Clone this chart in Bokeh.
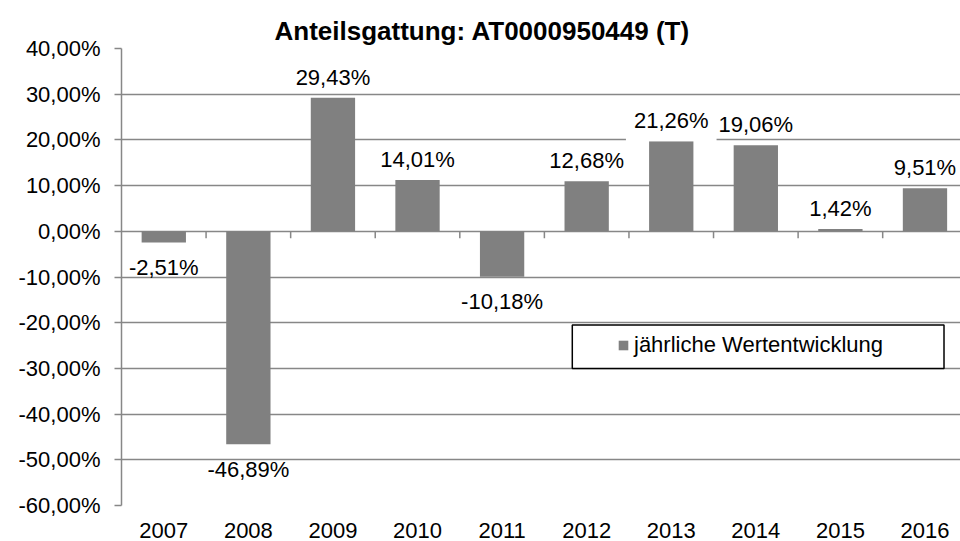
from bokeh.plotting import figure
from bokeh.models import (Range1d, ColumnDataSource, CustomJSTickFormatter, FixedTicker,
                          Legend, LegendItem, BoxAnnotation)
from bokeh.embed import file_html
from bokeh.resources import INLINE
from bokeh.core.properties import value

# ---------------- data ----------------
title_text = "Anteilsgattung: AT0000950449 (T)"
series_name = "jährliche Wertentwicklung"
years = ["2007", "2008", "2009", "2010", "2011", "2012", "2013", "2014", "2015", "2016"]
# bar heights as drawn in the reference (in %)
bar_values = [-2.45, -46.6, 29.25, 11.2, -9.95, 10.95, 19.7, 18.85, 0.5, 9.4]
# data label texts as printed in the reference
label_texts = ["-2,51%", "-46,89%", "29,43%", "14,01%", "-10,18%",
               "12,68%", "21,26%", "19,06%", "1,42%", "9,51%"]
y_ticks = [-60, -50, -40, -30, -20, -10, 0, 10, 20, 30, 40]

# ---------------- style / layout ----------------
FONT = "Liberation Sans"
FS = "22px"
GRID = "#878787"
BAR = "#808080"
W, H = 960, 541
BORDER_L, BORDER_T, BORDER_B = 121, 48, 36
y_lo, y_hi = y_ticks[0], y_ticks[-1]
frame_h = H - BORDER_T - BORDER_B
px_per_unit = frame_h / (y_hi - y_lo)
n = len(years)
x_end = n - 0.08          # right-most category is cut by the chart edge
label_bg_alpha = [0, 0, 0, 0, 0, 0, 1, 0, 0, 0]

p = figure(width=W, height=H, output_backend="svg", toolbar_location=None,
           x_range=Range1d(0, x_end), y_range=Range1d(y_lo, y_hi),
           min_border_left=BORDER_L, min_border_top=BORDER_T,
           min_border_bottom=BORDER_B, min_border_right=0,
           background_fill_color="white", border_fill_color="white")
p.outline_line_color = None

p.title.text = title_text
p.title.text_font = FONT
p.title.text_font_size = "26px"
p.title.text_font_style = "bold"
p.title.text_color = "black"
p.title.align = "left"
p.title.offset = 153
p.title.standoff = 5

centers = [i + 0.5 for i in range(n)]
src = ColumnDataSource(dict(x=centers, top=bar_values, year=years))
bars = p.vbar(x="x", top="top", bottom=0, width=0.524, source=src,
              fill_color=BAR, line_color=None)

# category boundary ticks on the zero line
bounds = list(range(1, n))
tick_len = 7 / px_per_unit
p.segment(x0=bounds, y0=[0] * len(bounds), x1=bounds, y1=[-tick_len] * len(bounds),
          line_color=GRID, line_width=1.5)

# data labels
off_pos = 20.5 / px_per_unit
off_neg = 25 / px_per_unit
label_y = [v + off_pos if v >= 0 else v - off_neg for v in bar_values]
lsrc = ColumnDataSource(dict(x=centers, y=label_y, t=label_texts, bga=label_bg_alpha))
p.text(x="x", y="y", text="t", source=lsrc, text_align="center", text_baseline="middle",
       text_font=value(FONT), text_font_size=FS, text_color="black",
       background_fill_color="white", background_fill_alpha="bga", padding=8)

# axes
yax = p.yaxis[0]
yax.ticker = FixedTicker(ticks=y_ticks)
yax.formatter = CustomJSTickFormatter(code="return tick.toFixed(2).replace('.', ',') + '%';")
yax.axis_line_color = GRID
yax.axis_line_width = 1.5
yax.major_tick_line_color = GRID
yax.major_tick_line_width = 1.5
yax.major_tick_out = 7
yax.major_tick_in = 0
yax.minor_tick_line_color = None
yax.major_label_standoff = 14
yax.major_label_text_font = FONT
yax.major_label_text_font_size = FS
yax.major_label_text_color = "black"

xax = p.xaxis[0]
xax.ticker = FixedTicker(ticks=centers)
xax.major_label_overrides = {c: y for c, y in zip(centers, years)}
xax.axis_line_color = None
xax.major_tick_line_color = None
xax.minor_tick_line_color = None
xax.major_label_standoff = 11
xax.major_label_text_font = FONT
xax.major_label_text_font_size = FS
xax.major_label_text_color = "black"

p.xgrid.grid_line_color = None
p.ygrid.ticker = FixedTicker(ticks=y_ticks)
p.ygrid.grid_line_color = GRID
p.ygrid.grid_line_width = 1.5

# legend with its frame
box = BoxAnnotation(left=5.33, right=9.725, top=-20.5, bottom=-30.0,
                    fill_color="white", fill_alpha=1.0,
                    line_color="black", line_alpha=1.0, line_width=1.5)
p.add_layout(box)
legend = Legend(items=[LegendItem(label=series_name, renderers=[bars])],
                location=(496, 147), padding=0, margin=0, spacing=0,
                glyph_width=12, glyph_height=12, label_standoff=5,
                label_text_font=FONT, label_text_font_size=FS, label_text_color="black",
                border_line_color=None, background_fill_alpha=0)
p.add_layout(legend)

open("out.html", "w").write(file_html(p, INLINE))
